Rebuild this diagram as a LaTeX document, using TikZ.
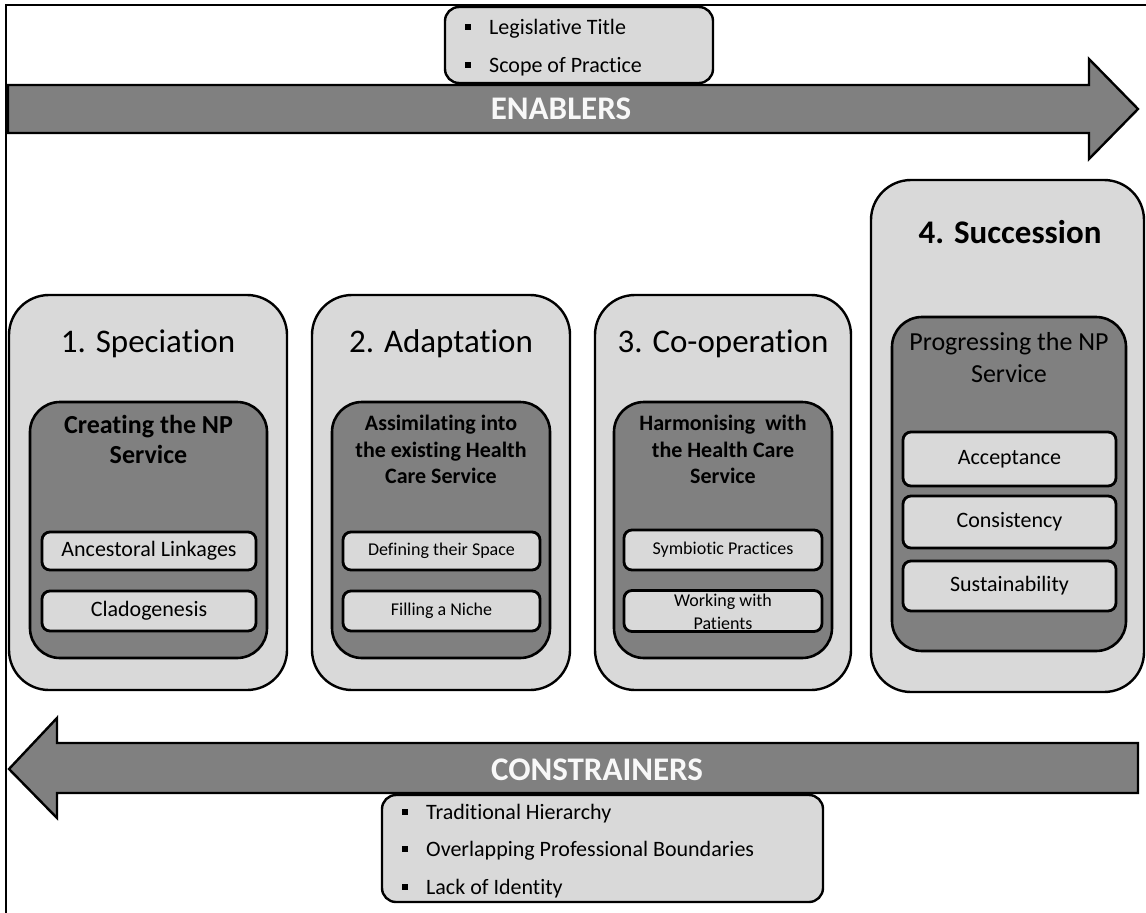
\documentclass[tikz,border=0pt]{standalone}
\usepackage{fontspec}
\setmainfont{Carlito}[RawFeature={-liga;-clig;-calt;-dlig}]
\definecolor{lightfill}{HTML}{D9D9D9}
\definecolor{darkfill}{HTML}{808080}
\definecolor{labelwhite}{HTML}{F8F8F8}
\newcommand{\lbul}{\raisebox{0.2em}{\rule{6pt}{6pt}}\hspace{18pt}}
\tikzset{
  outerbox/.style={draw=black, line width=2.4pt, fill=lightfill, rounded corners=40pt, inner sep=0pt},
  innerbox/.style={draw=black, line width=2.6pt, fill=darkfill, rounded corners=30pt, inner sep=0pt},
  subbox/.style={draw=black, line width=2.8pt, fill=lightfill, rounded corners=8pt, inner sep=0pt, align=center},
  listbox/.style={draw=black, line width=2.4pt, fill=lightfill, rounded corners=14pt, inner sep=0pt},
  arrowshape/.style={draw=black, line width=2.4pt, fill=darkfill, line join=miter},
  frameline/.style={draw=black, line width=1.6pt},
  stagetitle/.style={inner sep=0pt, font=\fontsize{33}{40}\selectfont},
  stagetitlebold/.style={inner sep=0pt, font=\bfseries\fontsize{33}{40}\selectfont},
  arrowlabel/.style={inner sep=0pt, text=labelwhite, font=\bfseries\fontsize{33}{40}\selectfont},
  innertitlebig/.style={inner sep=0pt, align=center, font=\bfseries\fontsize{26}{30}\selectfont},
  innertitlesmall/.style={inner sep=0pt, align=center, font=\bfseries\fontsize{22}{26.5}\selectfont},
  innertitleplain/.style={inner sep=0pt, align=center, font=\fontsize{26}{32}\selectfont},
  subtextbig/.style={font=\fontsize{22}{26.4}\selectfont},
  subtextsmall/.style={font=\fontsize{18}{21.6}\selectfont},
  listtext/.style={inner sep=0pt, align=left, anchor=west},
}
\begin{document}
\begin{tikzpicture}[x=1pt,y=-1pt]
\useasboundingbox (0,0) rectangle (1146,913);
% frame
\draw[frameline] (6,913) -- (6,5) -- (1146,5);

% ENABLERS arrow
\draw[arrowshape] (8,85) -- (1089,85) -- (1089,59) -- (1138,109) -- (1089,159) -- (1089,133) -- (8,133) -- cycle;
\node[arrowlabel] (enablers) at (561,111) {\strut ENABLERS};

% Enablers list
\node[listbox, minimum width=268pt, minimum height=76pt] (legbox) at (579,45) {};
\node[listtext, font=\fontsize{22}{38}\selectfont] (legtext) at (465,45.4)
  {\lbul\strut Legislative Title\\\lbul\strut Scope of Practice};

% CONSTRAINERS arrow
\draw[arrowshape] (1138,743) -- (57,743) -- (57,718) -- (9,769) -- (57,818) -- (57,793) -- (1138,793) -- cycle;
\node[arrowlabel] (constrainers) at (597,772) {\strut CONSTRAINERS};

% Constrainers list
\node[listbox, minimum width=441pt, minimum height=107pt] (conbox) at (602.5,848.5) {};
\node[listtext, font=\fontsize{22}{37.5}\selectfont] (context) at (402,849)
  {\lbul\strut Traditional Hierarchy\\\lbul\strut Overlapping Professional Boundaries\\\lbul\strut Lack of Identity};

% Stage 1
\node[outerbox, minimum width=278pt, minimum height=395pt] (b1) at (148,492.5) {};
\node[stagetitle] (t1) at (148,344) {\strut 1. Speciation};
\node[innerbox, minimum width=237pt, minimum height=256pt] (i1) at (148.5,530) {};
\node[innertitlebig] (h1) at (148.5,442) {\strut Creating the NP\\\strut Service};
\node[subbox, subtextbig, minimum width=214pt, minimum height=38pt] (s11) at (149,551) {\strut Ancestoral Linkages};
\node[subbox, subtextbig, minimum width=214pt, minimum height=40pt] (s12) at (149,611) {\strut Cladogenesis};

% Stage 2
\node[outerbox, minimum width=258pt, minimum height=395pt] (b2) at (441,492.5) {};
\node[stagetitle] (t2) at (441,344) {\strut 2. Adaptation};
\node[innerbox, minimum width=218pt, minimum height=256pt] (i2) at (441,530) {};
\node[innertitlesmall] (h2) at (441,452) {\strut Assimilating into\\\strut the existing Health\\\strut Care Service};
\node[subbox, subtextsmall, minimum width=197pt, minimum height=38pt] (s21) at (441.5,551) {\strut Defining their Space};
\node[subbox, subtextsmall, minimum width=197pt, minimum height=40pt] (s22) at (441.5,611) {\strut Filling a Niche};

% Stage 3
\node[outerbox, minimum width=256pt, minimum height=395pt] (b3) at (723,492.5) {};
\node[stagetitle] (t3) at (723,344) {\strut 3. Co-operation};
\node[innerbox, minimum width=218pt, minimum height=256pt] (i3) at (723,530) {};
\node[innertitlesmall] (h3) at (723,452) {\strut Harmonising\ \ with\\\strut the Health Care\\\strut Service};
\node[subbox, subtextsmall, minimum width=198pt, minimum height=40pt] (s31) at (723,550) {\strut Symbiotic Practices};
\node[subbox, minimum width=198pt, minimum height=41pt] (s32) at (723,611) {};
\node[inner sep=0pt, align=center, font=\fontsize{18}{23}\selectfont] (s32t) at (s32.center) [yshift=-2pt] {\strut Working with\\\strut Patients};

% Stage 4
\node[outerbox, minimum width=273pt, minimum height=512pt] (b4) at (1007.5,436) {};
\node[stagetitlebold] (t4) at (1010,235) {\strut 4. Succession};
\node[innerbox, minimum width=234pt, minimum height=334pt] (i4) at (1009,484) {};
\node[innertitleplain] (h4) at (1009,360) {\strut Progressing the NP\\\strut Service};
\node[subbox, subtextbig, minimum width=213pt, minimum height=54pt] (s41) at (1009.5,459) {\strut Acceptance};
\node[subbox, subtextbig, minimum width=213pt, minimum height=52pt] (s42) at (1009.5,522) {\strut Consistency};
\node[subbox, subtextbig, minimum width=213pt, minimum height=50pt] (s43) at (1009.5,586) {\strut Sustainability};
\end{tikzpicture}
\end{document}
